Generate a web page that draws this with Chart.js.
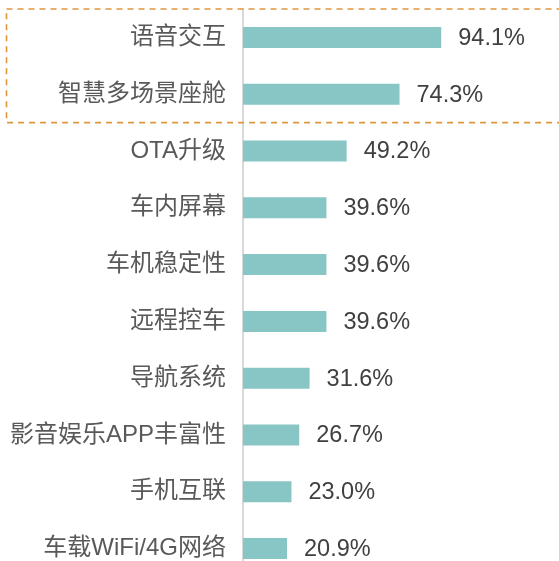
<!DOCTYPE html>
<html>
<head>
<meta charset="utf-8">
<script src="https://cdn.jsdelivr.net/npm/chart.js@4"></script>
<style>
    html, body { margin: 0; padding: 0; background: #fff; overflow: hidden; }
    #wrap { width: 559px; height: 580px; }
</style>
</head>
<body>
<div id="wrap"><canvas id="featureChart" width="559" height="580"></canvas></div>
<script>
// Data
const categories = ['语音交互', '智慧多场景座舱', 'OTA升级', '车内屏幕', '车机稳定性',
    '远程控车', '导航系统', '影音娱乐APP丰富性', '手机互联', '车载WiFi/4G网络'];
const shares = [94.1, 74.3, 49.2, 39.6, 39.6, 39.6, 31.6, 26.7, 23.0, 20.9];
const highlighted = [0, 1]; // rows inside the dashed box

const fontFamily = '"Liberation Sans", Arial, "Noto Sans CJK SC", sans-serif';

// Draw the percentage next to each bar
const valueLabels = {
    id: 'valueLabels',
    afterDatasetsDraw(chart) {
        const ctx = chart.ctx;
        const meta = chart.getDatasetMeta(0);
        ctx.save();
        ctx.font = '23.5px ' + fontFamily;
        ctx.fillStyle = '#404040';
        ctx.textAlign = 'left';
        ctx.textBaseline = 'middle';
        meta.data.forEach((bar, i) => {
            ctx.fillText(shares[i].toFixed(1) + '%', bar.x + 17, bar.y + 1);
        });
        ctx.restore();
    }
};

// Dashed orange box around the top rows
const highlightBox = {
    id: 'highlightBox',
    afterDraw(chart) {
        const y = chart.scales.y;
        const half = (y.getPixelForValue(1) - y.getPixelForValue(0)) / 2;
        const top = y.getPixelForValue(highlighted[0]) - half;
        const bottom = y.getPixelForValue(highlighted[highlighted.length - 1]) + half;
        const ctx = chart.ctx;
        ctx.save();
        ctx.strokeStyle = '#E0963C';
        ctx.lineWidth = 1.6;
        ctx.setLineDash([6, 5]);
        ctx.strokeRect(6.5, top, chart.width + 20, bottom - top);
        ctx.restore();
    }
};

new Chart(document.getElementById('featureChart').getContext('2d'), {
    type: 'bar',
    data: {
        labels: categories,
        datasets: [{
            data: shares,
            backgroundColor: '#88C6C6',
            barPercentage: 0.74,
            categoryPercentage: 0.5
        }]
    },
    options: {
        indexAxis: 'y',
        responsive: false,
        animation: false,
        layout: { padding: { top: 9, bottom: 3, left: 0, right: 0 } },
        scales: {
            x: {
                display: false,
                min: 0,
                max: 150
            },
            y: {
                afterFit(scale) {
                    scale.width = 243;
                    // labels fit inside the rows, no extra room above or below
                    scale.paddingTop = 0;
                    scale.paddingBottom = 0;
                },
                grid: { display: false, drawTicks: false },
                border: { display: true, color: '#D9D9D9', width: 2 },
                ticks: {
                    padding: 17,
                    color: '#595959',
                    font: { size: 24, family: fontFamily }
                }
            }
        },
        plugins: {
            legend: { display: false },
            tooltip: { enabled: false }
        }
    },
    plugins: [valueLabels, highlightBox]
});
</script>
</body>
</html>
